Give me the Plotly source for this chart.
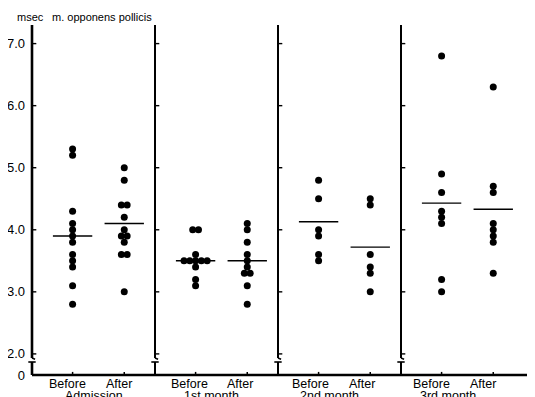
import plotly.graph_objects as go

# ---------------- data ----------------
groups = ["Admission", "1st month", "2nd month", "3rd month"]
conditions = ["Before", "After"]

before_admission = [5.3, 5.2, 4.3, 4.1, 4.0, 3.9, 3.8, 3.6, 3.5, 3.4, 3.1, 2.8]
after_admission = [5.0, 4.8, 4.4, 4.4, 4.2, 4.0, 3.9, 3.9, 3.8, 3.6, 3.6, 3.0]
before_1st = [4.0, 4.0, 3.6, 3.5, 3.5, 3.5, 3.5, 3.5, 3.4, 3.2, 3.1]
after_1st = [4.1, 4.0, 3.8, 3.6, 3.5, 3.4, 3.3, 3.3, 3.1, 2.8]
before_2nd = [4.8, 4.5, 4.0, 3.9, 3.6, 3.5]
after_2nd = [4.5, 4.4, 3.6, 3.4, 3.3, 3.0]
before_3rd = [6.8, 4.9, 4.6, 4.3, 4.2, 4.1, 3.2, 3.0]
after_3rd = [6.3, 4.7, 4.6, 4.1, 4.0, 3.9, 3.8, 3.3]

mean_before = [3.9, 3.5, 4.13, 4.43]
mean_after = [4.1, 3.5, 3.72, 4.33]

y_tick_values = [2, 3, 4, 5, 6, 7]
y_tick_labels = ["2.0", "3.0", "4.0", "5.0", "6.0", "7.0"]
zero_label = "0"
unit_label = "msec"
muscle_label = "m. opponens pollicis"

# ---------------- layout constants ----------------
FONT = "Liberation Sans, Arial, sans-serif"
BLACK = "#000000"
Y_BASE = 1.66        # where the broken axis shows "0"
Y_TOP = 7.3
X_BEFORE, X_AFTER = 0.33, 0.75
TIE_STEP = 0.047
HALF_MEAN = 0.16
PX = 62.06           # pixels per y unit

W, H = 527, 389      # page body keeps an 8px margin
ML, MR, MT, MB = 18, 0, 14, 18
PLOT_W = W - ML - MR
PLOT_H = H - MT - MB

before_sets = [before_admission, before_1st, before_2nd, before_3rd]
after_sets = [after_admission, after_1st, after_2nd, after_3rd]


def tie_positions(values, center):
    counts = {}
    for v in values:
        counts[v] = counts.get(v, 0) + 1
    seen = {}
    xs = []
    for v in values:
        n = counts[v]
        i = seen.get(v, 0)
        seen[v] = i + 1
        xs.append(center + (i - (n - 1) / 2) * TIE_STEP)
    return xs


fig = go.Figure()

shapes = []
for k, g in enumerate(groups):
    for vals, off, mval in ((before_sets[k], X_BEFORE, mean_before[k]),
                            (after_sets[k], X_AFTER, mean_after[k])):
        cx = k + off
        fig.add_trace(go.Scatter(
            x=tie_positions(vals, cx), y=vals, mode="markers",
            marker=dict(color=BLACK, size=7), showlegend=False,
            hoverinfo="y", cliponaxis=False))
        fig.add_trace(go.Scatter(
            x=[cx - HALF_MEAN, cx + HALF_MEAN], y=[mval, mval], mode="lines",
            line=dict(color=BLACK, width=1.4), showlegend=False, hoverinfo="skip"))
        shapes.append(dict(type="line", xref="x", yref="y", x0=cx, x1=cx,
                           y0=Y_BASE, y1=Y_BASE + 0.05,
                           line=dict(color=BLACK, width=1.5)))

# vertical (broken) axes at each panel boundary
brk_hi = Y_BASE + 17 / PX
brk_lo = Y_BASE + 13 / PX
for k in range(len(groups)):
    w = 2.6 if k == 0 else 2.0
    shapes.append(dict(type="line", xref="x", yref="y", x0=k, x1=k,
                       y0=brk_hi, y1=Y_TOP, line=dict(color=BLACK, width=w)))
    shapes.append(dict(type="line", xref="x", yref="y", x0=k, x1=k + 0.025,
                       y0=brk_hi, y1=brk_hi - 0.02, line=dict(color=BLACK, width=1.5)))
    shapes.append(dict(type="line", xref="x", yref="y", x0=k, x1=k,
                       y0=Y_BASE, y1=brk_lo, line=dict(color=BLACK, width=w)))
    shapes.append(dict(type="line", xref="x", yref="y", x0=k - 0.03, x1=k + 0.03,
                       y0=brk_lo, y1=brk_lo, line=dict(color=BLACK, width=1.6)))
    for t in y_tick_values:
        shapes.append(dict(type="line", xref="x", yref="y", x0=k, x1=k + 0.035,
                           y0=t, y1=t, line=dict(color=BLACK, width=1.4)))

shapes.append(dict(type="line", xref="x", yref="y", x0=0, x1=4.2,
                   y0=Y_BASE, y1=Y_BASE, line=dict(color=BLACK, width=2.6)))

title_y = 1 + 5 / PLOT_H
annotations = [
    dict(text=unit_label, xref="paper", yref="paper", x=(7 - ML) / PLOT_W, y=title_y,
         xanchor="left", yanchor="middle", showarrow=False,
         font=dict(family=FONT, size=11, color=BLACK)),
    dict(text=muscle_label, xref="paper", yref="paper", x=(42 - ML) / PLOT_W, y=title_y,
         xanchor="left", yanchor="middle", showarrow=False,
         font=dict(family=FONT, size=11, color=BLACK)),
]
for k, g in enumerate(groups):
    annotations.append(dict(text=conditions[0], xref="x", yref="y",
                            x=k * 0.987 + 0.29, y=Y_BASE, yanchor="top", yshift=-1,
                            showarrow=False, borderpad=0,
                            font=dict(family=FONT, size=12.5, color=BLACK)))
    annotations.append(dict(text=conditions[1], xref="x", yref="y",
                            x=k * 0.985 + 0.71, y=Y_BASE, yanchor="top", yshift=-1,
                            showarrow=False, borderpad=0,
                            font=dict(family=FONT, size=12.5, color=BLACK)))
    annotations.append(dict(text=g, xref="x", yref="y",
                            x=k * 0.96 + 0.5, y=Y_BASE, yanchor="top", yshift=-13,
                            showarrow=False, borderpad=0,
                            font=dict(family=FONT, size=12.5, color=BLACK)))

fig.update_layout(
    width=W, height=H,
    margin=dict(l=ML, r=MR, t=MT, b=MB, autoexpand=False),
    paper_bgcolor="white", plot_bgcolor="white",
    xaxis=dict(range=[-6 / 123, -6 / 123 + PLOT_W / 123], visible=False, fixedrange=True),
    yaxis=dict(range=[Y_BASE - 4 / PX, Y_BASE - 4 / PX + PLOT_H / PX],
               tickvals=[Y_BASE] + y_tick_values,
               ticktext=[zero_label] + y_tick_labels,
               ticks="", showline=False, showgrid=False, zeroline=False,
               tickfont=dict(family=FONT, size=13, color=BLACK),
               automargin=False, fixedrange=True),
    shapes=shapes,
    annotations=annotations,
    showlegend=False,
)

fig.write_html("out.html")
